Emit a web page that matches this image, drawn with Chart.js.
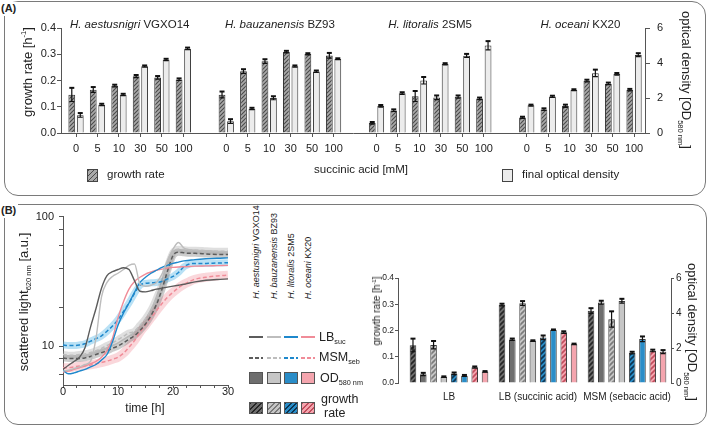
<!DOCTYPE html>
<html>
<head>
<meta charset="utf-8">
<script src="https://cdn.jsdelivr.net/npm/chart.js@4.4.1/dist/chart.umd.min.js"></script>
<style>
  body { margin: 0; background: #fff; }
  #page { position: relative; width: 709px; height: 428px; overflow: hidden;
          font-family: "Liberation Sans", Arial, sans-serif; color: #222; }
  canvas { position: absolute; }
  .box { position: absolute; box-sizing: border-box; border: 1.5px solid #7a7a7a; border-radius: 14px; }
  .t { position: absolute; white-space: nowrap; line-height: 1; }
  .c { transform: translate(-50%, -50%); }
  .l { transform: translate(0, -50%); }
  .up { transform: translate(-50%, -50%) rotate(-90deg); }
  .down { transform: translate(-50%, -50%) rotate(90deg); }
  sub, sup { font-size: 58%; line-height: 0; }
  sub { vertical-align: -0.45em; }
  sup { vertical-align: 0.75em; }
  .sw { position: absolute; box-sizing: border-box; }
</style>
</head>
<body>
<div id="page">
  <div class="box" style="left:4px;top:1px;width:702px;height:195px;"></div>
  <div class="box" style="left:4px;top:204px;width:703px;height:221px;"></div>
  <div class="t" style="left:0;top:2px;font-size:11px;font-weight:bold;background:#fff;padding:1px 2px 2px 1px;">(A)</div>
  <div class="t" style="left:0;top:204px;font-size:11px;font-weight:bold;background:#fff;padding:1px 2px 2px 1px;">(B)</div>
  <canvas id="chartA" width="709" height="190" style="left:0;top:0;width:709px;height:190px;"></canvas>
  <canvas id="chartB1" width="240" height="215" style="left:0;top:205px;width:240px;height:215px;"></canvas>
  <canvas id="chartB2" width="369" height="170" style="left:340px;top:250px;width:369px;height:170px;"></canvas>
</div>
<script>
// ---- panel A: growth on succinic acid ----
const concentrations = ['0', '5', '10', '30', '50', '100'];
const strainSpecies = ['H. aestusnigri', 'H. bauzanensis', 'H. litoralis', 'H. oceani'];
const strainCodes = ['VGXO14', 'BZ93', '2SM5', 'KX20'];

const grVGXO14 = [0.146, 0.165, 0.180, 0.216, 0.211, 0.204];
const grBZ93   = [0.146, 0.235, 0.273, 0.309, 0.301, 0.295];
const gr2SM5   = [0.038, 0.086, 0.140, 0.135, 0.138, 0.131];
const grKX20   = [0.059, 0.090, 0.103, 0.199, 0.188, 0.164];
const odVGXO14 = [1.02, 1.62, 2.19, 3.81, 4.19, 4.82];
const odBZ93   = [0.67, 1.39, 2.00, 3.81, 3.52, 4.23];
const od2SM5   = [1.54, 2.27, 3.00, 3.94, 4.42, 5.00];
const odKX20   = [1.58, 2.08, 2.46, 3.42, 3.37, 4.46];

const grErrVGXO14 = [0.026, 0.010, 0.004, 0.005, 0.006, 0.004];
const grErrBZ93   = [0.012, 0.008, 0.008, 0.004, 0.003, 0.010];
const grErr2SM5   = [0.004, 0.004, 0.020, 0.008, 0.005, 0.004];
const grErrKX20   = [0.003, 0.004, 0.005, 0.004, 0.004, 0.004];
const odErrVGXO14 = [0.12, 0.05, 0.05, 0.05, 0.05, 0.06];
const odErrBZ93   = [0.12, 0.05, 0.10, 0.05, 0.05, 0.04];
const odErr2SM5   = [0.06, 0.06, 0.20, 0.05, 0.10, 0.25];
const odErrKX20   = [0.04, 0.05, 0.04, 0.20, 0.06, 0.10];

// ---- panel B left: scattered light over time ----
const hours = [0,1,2,3,4,5,6,7,8,9,10,11,12,13,14,15,16,17,18,19,20,21,22,23,24,26,28,30];
const lbVGXO14  = [6.6,7.1,7.6,8.2,9.7,14,19.5,28,35,37.5,39,40.3,39,32,26.5,26.2,26.8,27.5,28,28.5,29,29.5,30,30.7,31.3,32.2,32.7,33];
const lbBZ93    = [6.4,6.5,6.7,6.9,7.2,7.6,11.5,24,31,34.5,36.5,39,42,43,30,29,29.5,31,36,46,56,63,57,55.5,55,54.5,54,53.5];
const lb2SM5    = [6.5,6.1,6.2,6.4,6.6,6.9,7.2,7.8,8.6,10.8,14.5,18,21.5,26,31,34,36.5,38.5,40.5,42,43.5,44.5,45.5,46,46.5,47.2,47.7,48];
const lbKX20    = [6.3,6.4,6.6,6.8,7.0,7.3,7.6,8.2,9.2,11.5,16.5,22,27.5,31.5,34,36,37.3,38.5,39.3,40,40.5,40.8,41,41.2,41.4,41.6,41.8,42];
const msmVGXO14 = [8.1,8.0,8.0,8.0,8.1,8.3,8.6,8.9,9.2,9.6,10.0,10.6,11.3,12.0,13.2,14.8,17.2,21,27.5,38,50,53,52.5,52,52,51.5,51,51];
const msmBZ93   = [8.6,8.5,8.5,8.6,8.7,8.9,9.2,9.6,10.1,10.6,11.2,11.9,12.6,13.0,14.5,16.3,19,23.5,30,41,53,56,55.5,55,55,54.5,54,54];
const msm2SM5   = [10.2,10.1,10.1,10.2,10.4,10.9,11.4,12,13,14.3,16,18.5,21.5,25.5,29.5,30.5,30.8,31,31.5,33,34.5,37,41,43,43.5,43.5,43.8,44];
const msmKX20   = [6.8,6.8,6.9,7.0,7.05,7.15,7.3,7.45,7.65,7.9,8.2,8.8,9.8,11.0,12.8,14.5,16.5,18.8,21.3,23.8,26,28.2,30,31.5,32.8,34,34.8,35.3];

// ---- panel B right: growth rate and OD per medium ----
const media = ['LB', 'LB (succinic acid)', 'MSM (sebacic acid)'];
const mGrVGXO14 = [0.144, 0.298, 0.275];
const mOdVGXO14 = [0.50, 2.49, 4.60];
const mGrBZ93   = [0.145, 0.304, 0.243];
const mOdBZ93   = [0.35, 2.41, 4.69];
const mGr2SM5   = [0.036, 0.173, 0.115];
const mOd2SM5   = [0.42, 3.03, 2.51];
const mGrKX20   = [0.060, 0.193, 0.123];
const mOdKX20   = [0.65, 2.22, 1.78];
const mGrErrVGXO14 = [0.025, 0.004, 0.010];
const mOdErrVGXO14 = [0.08, 0.05, 0.10];
const mGrErrBZ93   = [0.015, 0.008, 0.030];
const mOdErrBZ93   = [0.03, 0.03, 0.12];
const mGrErr2SM5   = [0.004, 0.008, 0.004];
const mOdErr2SM5   = [0.04, 0.03, 0.15];
const mGrErrKX20   = [0.003, 0.004, 0.004];
const mOdErrKX20   = [0.03, 0.03, 0.10];

// colours per strain (VGXO14, BZ93, 2SM5, KX20)
const lineColors = ['#5c5c5c', '#bdbdbd', '#1e88cc', '#f08c98'];
const bandColors = ['rgba(110,110,110,0.35)', 'rgba(175,175,175,0.4)', 'rgba(70,175,230,0.38)', 'rgba(242,140,152,0.35)'];
const odFills = ['#6e6e6e', '#c6c6c6', '#2a8dc8', '#f4a5ae'];
const stripeColors = ['#262626', '#7b7b7b', '#0c3552', '#c24d5d'];

const FONT = '"Liberation Sans", Arial, sans-serif';
Chart.defaults.font.family = FONT;
Chart.defaults.color = '#222';
Chart.defaults.animation = false;
Chart.defaults.plugins.legend.display = false;
Chart.defaults.plugins.tooltip.enabled = false;

function hatch(bg, fg, size) {
  const c = document.createElement('canvas');
  c.width = c.height = size;
  const g = c.getContext('2d');
  g.fillStyle = bg;
  g.fillRect(0, 0, size, size);
  g.strokeStyle = fg;
  g.lineWidth = size > 4 ? 1.6 : 1.1;
  g.beginPath();
  g.moveTo(0, size); g.lineTo(size, 0);
  g.moveTo(-1, 1); g.lineTo(1, -1);
  g.moveTo(size - 1, size + 1); g.lineTo(size + 1, size - 1);
  g.stroke();
  return g.createPattern(c, 'repeat');
}

// black error bars on top of each bar
const errorBars = {
  id: 'errorBars',
  afterDatasetsDraw(chart) {
    const ctx = chart.ctx;
    chart.data.datasets.forEach((ds, i) => {
      if (!ds.errors) return;
      const scale = chart.scales[ds.yAxisID];
      chart.getDatasetMeta(i).data.forEach((bar, j) => {
        const v = ds.data[j].y, e = ds.errors[j];
        const top = scale.getPixelForValue(v + e);
        const bot = scale.getPixelForValue(Math.max(0, v - e));
        ctx.save();
        ctx.strokeStyle = '#111';
        ctx.lineWidth = 1.2;
        ctx.beginPath();
        ctx.moveTo(bar.x, top); ctx.lineTo(bar.x, bot);
        ctx.moveTo(bar.x - 2.5, bot); ctx.lineTo(bar.x + 2.5, bot);
        ctx.stroke();
        ctx.lineWidth = 2;
        ctx.beginPath();
        ctx.moveTo(bar.x - 2.5, top); ctx.lineTo(bar.x + 2.5, top);
        ctx.stroke();
        ctx.restore();
      });
    });
  }
};

const axisColor = '#555';

// ---------- chart A ----------
const groupsGr = [grVGXO14, grBZ93, gr2SM5, grKX20];
const groupsOd = [odVGXO14, odBZ93, od2SM5, odKX20];
const groupsGrErr = [grErrVGXO14, grErrBZ93, grErr2SM5, grErrKX20];
const groupsOdErr = [odErrVGXO14, odErrBZ93, odErr2SM5, odErrKX20];
const slotsPerGroup = concentrations.length + 1;
const toPoints = arrs => arrs.flatMap((arr, g) => arr.map((v, k) => ({ x: g * slotsPerGroup + k, y: v })));
const tickPosA = toPoints(groupsGr).map(p => p.x);

const chartA = new Chart(document.getElementById('chartA'), {
  type: 'bar',
  data: {
    datasets: [
      { data: toPoints(groupsGr), errors: groupsGrErr.flat(), yAxisID: 'y',
        backgroundColor: hatch('#a9a9a9', '#4a4a4a', 4), borderColor: '#333', borderWidth: 1 },
      { data: toPoints(groupsOd), errors: groupsOdErr.flat(), yAxisID: 'y2',
        backgroundColor: '#ececec', borderColor: '#333', borderWidth: 1 }
    ]
  },
  options: {
    responsive: false,
    layout: { padding: { top: 28 }, autoPadding: false },
    datasets: { bar: { categoryPercentage: 0.79, barPercentage: 0.8 } },
    scales: {
      x: {
        type: 'linear', min: -0.7, max: 26.51, offset: false,
        afterBuildTicks: s => { s.ticks = tickPosA.map(v => ({ value: v })); },
        ticks: { autoSkip: false, maxRotation: 0, padding: 5, font: { size: 11 },
                 callback: v => concentrations[v % slotsPerGroup] },
        grid: { offset: false, drawOnChartArea: false, tickLength: 4, color: axisColor },
        border: { color: axisColor },
        afterFit: s => { s.height = 57; }
      },
      y: {
        position: 'left', min: 0, max: 0.4,
        ticks: { stepSize: 0.1, padding: 1, font: { size: 11 }, callback: v => v.toFixed(1) },
        grid: { drawOnChartArea: false, tickLength: 4, color: axisColor },
        border: { color: axisColor },
        afterFit: s => { s.width = 61; }
      },
      y2: {
        position: 'right', min: 0, max: 6,
        ticks: { stepSize: 2, padding: 7, font: { size: 11 } },
        grid: { drawOnChartArea: false, tickLength: 5, color: axisColor },
        border: { color: axisColor },
        afterFit: s => { s.width = 64; }
      }
    }
  },
  plugins: [errorBars]
});

// ---------- chart B1 (time course) ----------
const lbSeries = [lbVGXO14, lbBZ93, lb2SM5, lbKX20];
const msmSeries = [msmVGXO14, msmBZ93, msm2SM5, msmKX20];
const xy = arr => hours.map((t, i) => ({ x: t, y: arr[i] }));
const lineBase = { pointRadius: 0, cubicInterpolationMode: 'monotone', fill: false, borderJoinStyle: 'round' };
const b1Sets = [];
lbSeries.forEach((arr, i) => b1Sets.push({ ...lineBase, data: xy(arr), borderColor: lineColors[i], borderWidth: 1.4, order: 1 }));
msmSeries.forEach((arr, i) => b1Sets.push({ ...lineBase, data: xy(arr), borderColor: lineColors[i], borderWidth: 1.5, borderDash: [4, 2.5], order: 1 }));
msmSeries.forEach((arr, i) => b1Sets.push({ ...lineBase, data: xy(arr), borderColor: bandColors[i], borderWidth: i === 3 ? 9 : 7, order: 2 }));

const timeTicks = [0, 2.5, 5, 7.5, 10, 12.5, 15, 17.5, 20, 22.5, 25, 27.5, 30];
const lightTicks = [6, 8, 10, 20, 40, 60, 80, 100];

new Chart(document.getElementById('chartB1'), {
  type: 'line',
  data: { datasets: b1Sets },
  options: {
    responsive: false,
    layout: { padding: { top: 8, right: 12 }, autoPadding: false },
    scales: {
      x: {
        type: 'linear', min: 0, max: 30,
        afterBuildTicks: s => { s.ticks = timeTicks.map(v => ({ value: v })); },
        ticks: { autoSkip: false, maxRotation: 0, padding: -3, font: { size: 11 },
                 callback: v => (v % 10 === 0 ? String(v) : '') },
        grid: { drawOnChartArea: false, tickLength: 3, color: axisColor },
        border: { color: axisColor },
        afterFit: s => { s.height = 35; }
      },
      y: {
        type: 'logarithmic', min: 5, max: 100,
        afterBuildTicks: s => { s.ticks = lightTicks.map(v => ({ value: v })); },
        ticks: { padding: 5, font: { size: 11 }, callback: v => (v === 10 || v === 100 ? String(v) : '') },
        grid: { drawOnChartArea: false, tickLength: 4, color: axisColor },
        border: { color: axisColor },
        afterFit: s => { s.width = 63; }
      }
    }
  }
});

// ---------- chart B2 (media bars) ----------
const mediaGr = [mGrVGXO14, mGrBZ93, mGr2SM5, mGrKX20];
const mediaOd = [mOdVGXO14, mOdBZ93, mOd2SM5, mOdKX20];
const mediaGrErr = [mGrErrVGXO14, mGrErrBZ93, mGrErr2SM5, mGrErrKX20];
const mediaOdErr = [mOdErrVGXO14, mOdErrBZ93, mOdErr2SM5, mOdErrKX20];
const idx = arr => arr.map((v, k) => ({ x: k, y: v }));
const b2Sets = [];
mediaGr.forEach((arr, i) => {
  b2Sets.push({ data: idx(arr), errors: mediaGrErr[i], yAxisID: 'y',
    backgroundColor: hatch(odFills[i], stripeColors[i], 5), borderColor: '#3a3a3a', borderWidth: 1 });
  b2Sets.push({ data: idx(mediaOd[i]), errors: mediaOdErr[i], yAxisID: 'y2',
    backgroundColor: odFills[i], borderColor: '#3a3a3a', borderWidth: 1 });
});

new Chart(document.getElementById('chartB2'), {
  type: 'bar',
  data: { datasets: b2Sets },
  options: {
    responsive: false,
    layout: { padding: { top: 28 }, autoPadding: false },
    datasets: { bar: { categoryPercentage: 0.925, barPercentage: 0.64 } },
    scales: {
      x: {
        type: 'linear', min: -0.573, max: 2.494, offset: false,
        afterBuildTicks: s => { s.ticks = media.map((m, k) => ({ value: k })); },
        ticks: { autoSkip: false, maxRotation: 0, padding: 8, font: { size: 10 }, callback: v => media[v] },
        grid: { display: false, drawTicks: false, offset: false },
        border: { display: false },
        afterFit: s => { s.height = 37; }
      },
      y: {
        position: 'left', min: 0, max: 0.4,
        ticks: { stepSize: 0.1, padding: 1, font: { size: 8.5 }, callback: v => v.toFixed(1) },
        grid: { drawOnChartArea: false, tickLength: 3, color: axisColor },
        border: { color: axisColor },
        afterFit: s => { s.width = 58; }
      },
      y2: {
        position: 'right', min: 0, max: 6,
        ticks: { stepSize: 2, padding: 2, font: { size: 10 } },
        grid: { drawOnChartArea: false, tickLength: 3, color: axisColor },
        border: { color: axisColor },
        afterFit: s => { s.width = 38; }
      }
    }
  },
  plugins: [errorBars]
});

// ---------- texts and legends ----------
const page = document.getElementById('page');
function txt(html, x, y, cls, size, extra) {
  const d = document.createElement('div');
  d.className = 't ' + cls;
  d.innerHTML = html;
  d.style.left = x + 'px';
  d.style.top = y + 'px';
  d.style.fontSize = size + 'px';
  if (extra) Object.assign(d.style, extra);
  page.appendChild(d);
  return d;
}
function swatch(x, y, w, h, bg, border) {
  const d = document.createElement('div');
  d.className = 'sw';
  Object.assign(d.style, { left: x + 'px', top: y + 'px', width: w + 'px', height: h + 'px', background: bg });
  if (border) d.style.border = border;
  page.appendChild(d);
}
const cssHatch = (bg, fg, w) => `repeating-linear-gradient(135deg, ${fg} 0 ${w}px, ${bg} ${w}px 3.6px)`;

// panel A
strainSpecies.forEach((sp, g) => {
  const cx = chartA.scales.x.getPixelForValue(g * slotsPerGroup + 2.5);
  txt(`<i>${sp}</i> ${strainCodes[g]}`, cx, 25, 'c', 11.5);
});
txt('growth rate [h<sup>-1</sup>]', 27, 72, 'up', 13);
txt('optical density [OD<sub>580 nm</sub>]', 686, 80, 'down', 13);
txt('succinic acid [mM]', 361, 170, 'c', 11.5);
swatch(87, 169, 11, 13, cssHatch('#a9a9a9', '#4a4a4a', 1.2), '1px solid #444');
txt('growth rate', 107, 175, 'l', 11.5);
swatch(502, 169, 11, 13, '#ececec', '1px solid #444');
txt('final optical density', 522, 175, 'l', 11.5);

// panel B left
txt('scattered light<sub>620 nm</sub> [a.u.]', 23, 302, 'up', 13);
txt('time [h]', 145, 408, 'c', 12);

// panel B legend: rotated strain names end just above the swatch columns
const legendX = [249, 267, 284, 301];
const labelBottom = 299;
strainSpecies.forEach((sp, i) => {
  const d = txt(`<i>${sp}</i> ${strainCodes[i]}`, 0, 0, 'up', 9);
  const w = d.offsetWidth;
  d.style.left = (legendX[i] + 6.5) + 'px';
  d.style.top = (labelBottom - w / 2) + 'px';
  swatch(legendX[i], 336, 14, 2, lineColors[i]);
  swatch(legendX[i], 356.5, 14, 2, `repeating-linear-gradient(90deg, ${lineColors[i]} 0 4px, transparent 4px 6px)`);
  swatch(legendX[i], 372, 14, 12, odFills[i], '1px solid #555');
  swatch(legendX[i], 402, 14, 12, cssHatch(odFills[i], stripeColors[i], 1.4), '1px solid #555');
});
txt('LB<sub>suc</sub>', 319, 337, 'l', 12.5);
txt('MSM<sub>seb</sub>', 319, 357, 'l', 12.5);
txt('OD<sub>580 nm</sub>', 320, 378, 'l', 12.5);
txt('growth', 321, 399, 'l', 12.5);
txt('rate', 324, 413, 'l', 12.5);

// panel B right
txt('growth rate [h<sup>-1</sup>]', 377, 311, 'up', 10);
txt('optical density [OD<sub>580 nm</sub>]', 692, 332, 'down', 13);
</script>
</body>
</html>
